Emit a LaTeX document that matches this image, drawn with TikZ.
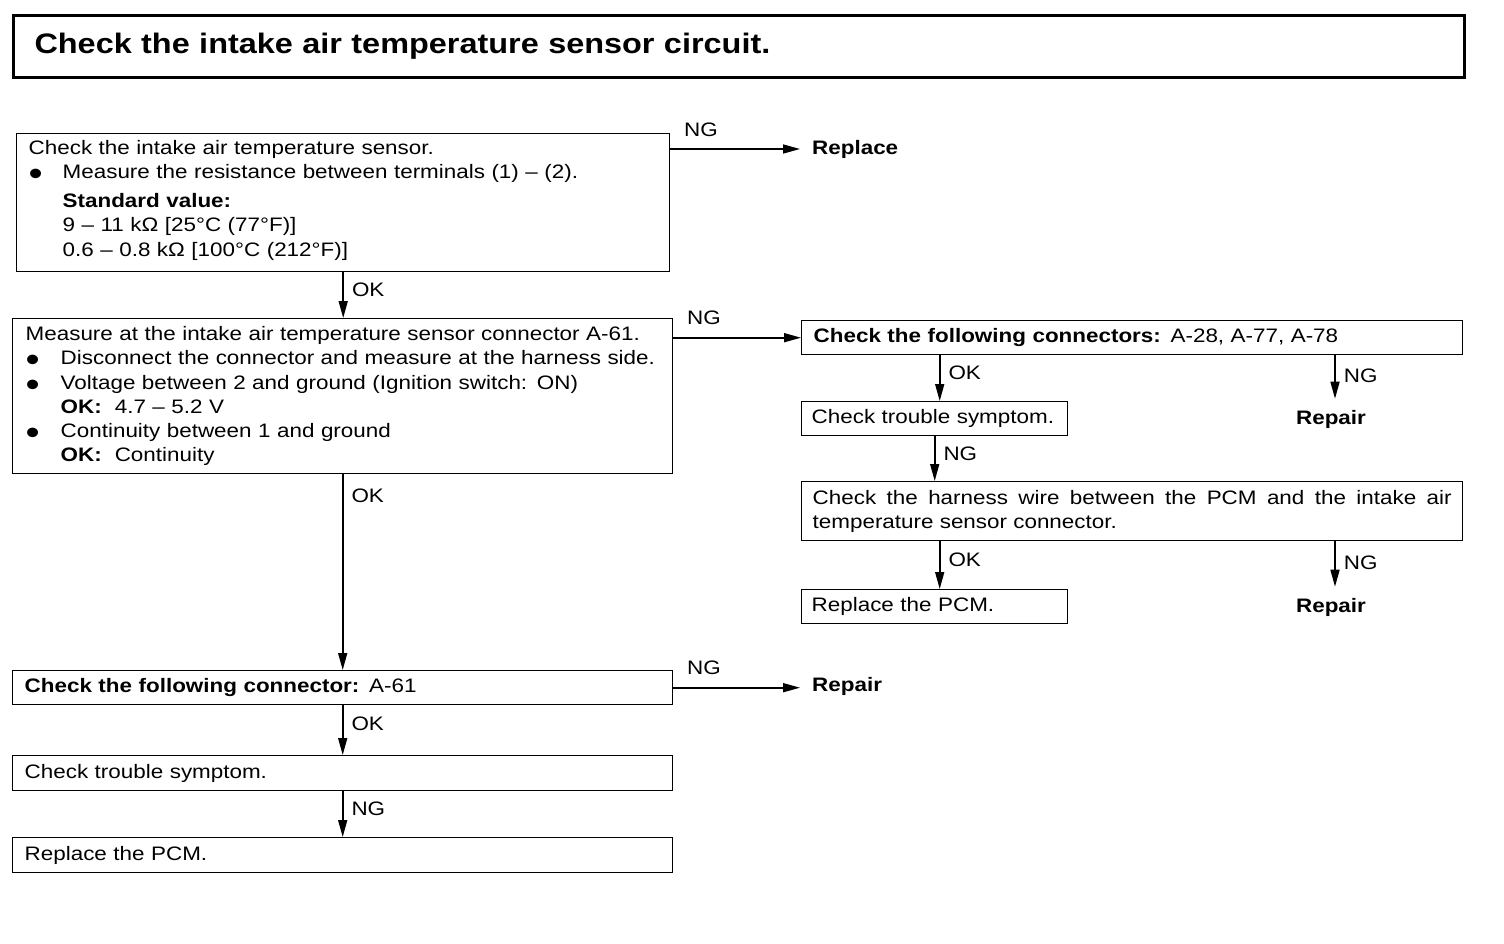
\documentclass[tikz,border=0pt]{standalone}
\usepackage{fontspec}
\setmainfont{Liberation Sans}[FakeStretch=1.15]
\usetikzlibrary{arrows.meta}

\tikzset{
  box/.style={draw, line width=1.4pt, anchor=north west, align=left,
    inner xsep=12pt, inner ysep=0pt, font=\fontsize{19.5}{24.2}\selectfont},
  flow/.style={line width=1.6pt, -{Triangle[length=17pt,width=9pt]}},
  tag/.style={anchor=west, inner sep=0pt, xshift=8pt, pos=.38,
    font=\fontsize{19.5}{24.2}\selectfont},
  ngtag/.style={anchor=south west, inner sep=0pt, xshift=13pt, yshift=12pt, pos=0,
    font=\fontsize{19.5}{24.2}\selectfont},
  result/.style={inner sep=0pt, font=\fontsize{19.5}{24.2}\selectfont\bfseries}
}
\newcommand{\bul}[1]{\makebox[#1][l]{\smash{\raisebox{-6.9pt}{\fontsize{35}{24}\selectfont\textbullet}}}}

\begin{document}
\begin{tikzpicture}[x=1pt, y=-1pt]
\useasboundingbox (0,0) rectangle (1504,944);

% heading
\node[box, line width=3pt, inner xsep=21pt, text width=1409pt, minimum height=62pt,
  font=\fontsize{28.2}{30}\selectfont\bfseries] (title) at (12,14)
  {Check the intake air temperature sensor circuit.};

% left column
\node[box, text width=629pt, minimum height=138pt] (chk1) at (16,133)
  {Check the intake air temperature sensor.\\
   \bul{34pt}Measure the resistance between terminals (1) -- (2).\\[5pt]
   \hspace*{34pt}\textbf{Standard value:}\\
   \hspace*{34pt}9 -- 11 kΩ [25°C (77°F)]\\
   \hspace*{34pt}0.6 -- 0.8 kΩ [100°C (212°F)]\vspace*{5pt}};
\node[box, inner xsep=13pt, text width=634pt, minimum height=155pt] (chk2) at (12,318)
  {Measure at the intake air temperature sensor connector A-61.\\
   \bul{35pt}Disconnect the connector and measure at the harness side.\\
   \bul{35pt}Voltage between 2 and ground (Ignition switch: ON)\\
   \hspace*{35pt}\textbf{OK:}\ \ 4.7 -- 5.2 V\\
   \bul{35pt}Continuity between 1 and ground\\
   \hspace*{35pt}\textbf{OK:}\ \ Continuity};
\node[box, text width=636pt, minimum height=34pt] (conn1) at (12,670)
  {\textbf{Check the following connector:} A-61};
\node[box, text width=636pt, minimum height=35pt] (sym1) at (12,755) {Check trouble symptom.};
\node[box, text width=636pt, minimum height=35pt] (pcm1) at (12,837) {Replace the PCM.};

% right column
\node[box, text width=637pt, minimum height=34pt] (conn2) at (801,320)
  {\textbf{Check the following connectors:} A-28, A-77, A-78};
\node[box, inner xsep=10pt, text width=246pt, minimum height=34pt] (sym2) at (801,401)
  {Check trouble symptom.};
\node[box, inner xsep=11pt, align=justify, text width=639pt, minimum height=59pt] (wire) at (801,481)
  {\hyphenpenalty=10000 Check the harness wire between the PCM and the intake air\linebreak
   temperature sensor connector.};
\node[box, inner xsep=10pt, text width=246pt, minimum height=34pt] (pcm2) at (801,589)
  {Replace the PCM.};

% results
\node[result, anchor=west] (rep0) at (812,149) {Replace};
\node[result, anchor=west] (rep1) at (812,686) {Repair};
\node[result] (rep2) at (1331,419) {Repair};
\node[result] (rep3) at (1331,607) {Repair};

% arrows
\draw[flow] (chk1.east |- rep0.west) -- node[ngtag] {NG} ([xshift=-12pt]rep0.west);
\draw[flow] (chk1.south) -- node[tag] {OK} (chk1.south |- chk2.north);
\draw[flow] (chk2.east |- conn2.west) -- node[ngtag] {NG} (conn2.west);
\draw[flow] (chk2.south) -- node[tag, pos=.11] {OK} (chk2.south |- conn1.north);
\draw[flow] (conn1.east) -- node[ngtag] {NG} ([xshift=-12pt]rep1.west |- conn1.east);
\draw[flow] (conn1.south) -- node[tag] {OK} (sym1.north);
\draw[flow] (sym1.south) -- node[tag] {NG} (pcm1.north);

\draw[flow] ([xshift=5pt]sym2.north |- conn2.south) -- node[tag] {OK} ([xshift=5pt]sym2.north);
\draw[flow, shorten >=11pt] ([xshift=4pt]rep2.north |- conn2.south) -- node[tag] {NG} ([xshift=4pt]rep2.north);
\draw[flow] (sym2.south) -- node[tag] {NG} (sym2.south |- wire.north);
\draw[flow] ([xshift=5pt]pcm2.north |- wire.south) -- node[tag] {OK} ([xshift=5pt]pcm2.north);
\draw[flow, shorten >=11pt] ([xshift=4pt]rep3.north |- wire.south) -- node[tag] {NG} ([xshift=4pt]rep3.north);
\end{tikzpicture}
\end{document}
